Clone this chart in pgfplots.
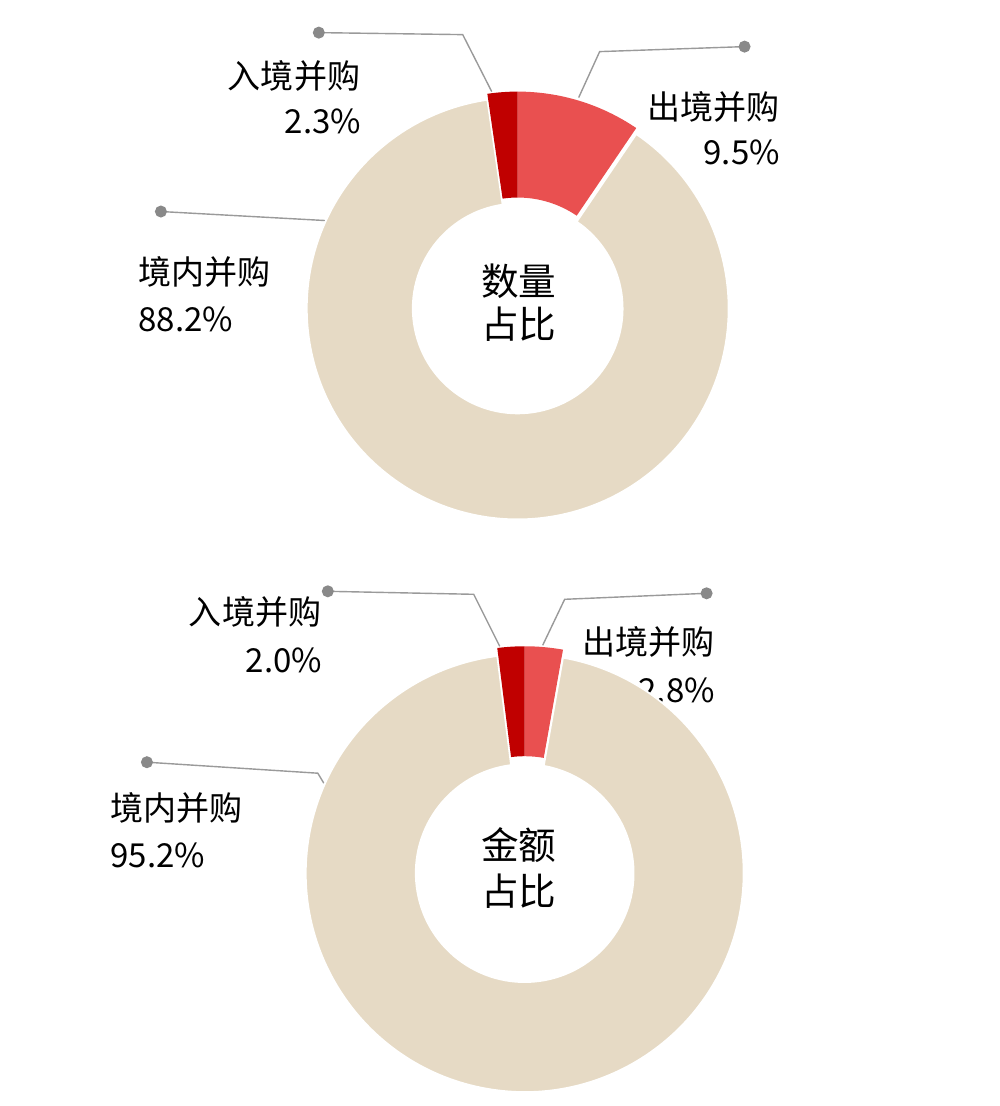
\documentclass[border=0pt]{standalone}
\usepackage{pgfplots}
\pgfplotsset{compat=1.18}
\usepackage{pgfplotstable}
\usepackage{fontspec}
\setmainfont{Noto Sans CJK SC}

\definecolor{inbound}{HTML}{C00000}
\definecolor{outbound}{HTML}{E95050}
\definecolor{domestic}{HTML}{E6DAC5}
\definecolor{leader}{HTML}{9A9A9A}
\definecolor{leaderdot}{HTML}{898989}

% shares in percent, clockwise from 12 o'clock
\pgfplotstableread{
part     count amount
outbound 9.5   2.8
domestic 88.2  95.2
inbound  2.3   2.0
}\shares

\newcommand\getshare[3]{\pgfplotstablegetelem{#1}{#2}\of\shares\let#3\pgfplotsretval}

% one ring slice, in pixel units (y down)
% #1 cx, #2 cy, #3 outer r, #4 inner r, #5 start angle, #6 end angle, #7 lift, #8 style
\newcommand\slice[8]{%
  \pgfmathsetmacro\xa{#1+#3*cos(#5)}%
  \pgfmathsetmacro\ya{#2-#7-#3*sin(#5)}%
  \pgfmathsetmacro\xb{#1+#4*cos(#6)}%
  \pgfmathsetmacro\yb{#2-#7-#4*sin(#6)}%
  \pgfmathsetmacro\ro{#3*0.01}%
  \pgfmathsetmacro\ri{#4*0.01}%
  \edef\temp{\noexpand\path[#8]
    (axis cs:\xa,\ya) arc[start angle=#5, end angle=#6, radius=\ro cm]
    -- (axis cs:\xb,\yb) arc[start angle=#6, end angle=#5, radius=\ri cm] -- cycle;}%
  \temp}

\newcommand\lbl{\fontsize{9.4pt}{11pt}\selectfont}
\newcommand\ctr{\fontsize{10.7pt}{12pt}\selectfont}

\begin{document}
\begin{tikzpicture}
\useasboundingbox (0,0) rectangle (10cm,11.06cm);

% angles, clockwise from 90 degrees
\getshare{0}{count}\cA \getshare{1}{count}\cB
\getshare{0}{amount}\mA \getshare{1}{amount}\mB
\pgfmathsetmacro\ca{90-3.6*\cA}
\pgfmathsetmacro\cb{\ca-3.6*\cB}
\pgfmathsetmacro\ma{90-3.6*\mA}
\pgfmathsetmacro\mb{\ma-3.6*\mB}

\begin{axis}[
  at={(0,0)}, anchor=south west,
  x=0.01cm, y=0.01cm,
  xmin=0, xmax=1000, ymin=0, ymax=1106,
  y dir=reverse,
  hide axis, clip=false,
  leaderline/.style={leader, line width=0.4pt, mark=*, mark indices={1},
    mark size=1.5pt, mark options={fill=leaderdot, draw=leaderdot}},
]
% ---- top: number of deals
\addplot[leaderline] coordinates {(319,32) (463,34) (492,91)};
\addplot[leaderline] coordinates {(745,46) (600,51) (579,97)};
\addplot[leaderline] coordinates {(161,211) (325,220)};

\node[anchor=east, inner sep=0, font=\lbl] at (axis cs:361,75) {入境并购};
\node[anchor=east, inner sep=0, font=\lbl] at (axis cs:362,121) {2.3\%};
\node[anchor=east, inner sep=0, font=\lbl] at (axis cs:781,106) {出境并购};
\node[anchor=east, inner sep=0, font=\lbl] at (axis cs:781,152) {9.5\%};
\node[anchor=west, inner sep=0, font=\lbl] at (axis cs:138,271) {境内并购};
\node[anchor=west, inner sep=0, font=\lbl] at (axis cs:138,319) {88.2\%};

\slice{518}{308}{211}{105}{90}{\ca}{6}{fill=outbound}
\slice{518}{308}{211}{105}{\ca}{\cb}{0}{fill=domestic, draw=white, line width=0.5pt}
\slice{518}{308}{211}{105}{\cb}{-270}{6}{fill=inbound}

\node[inner sep=0, font=\ctr] at (axis cs:519,281) {数量};
\node[inner sep=0, font=\ctr] at (axis cs:519,324) {占比};

% ---- bottom: deal value
\addplot[leaderline] coordinates {(328,591) (474,594) (500,646)};
\addplot[leaderline] coordinates {(707,593) (565,599) (543,645)};
\addplot[leaderline] coordinates {(147,762) (318,773) (324,783)};

\node[anchor=east, inner sep=0, font=\lbl] at (axis cs:322,612) {入境并购};
\node[anchor=east, inner sep=0, font=\lbl] at (axis cs:323,660) {2.0\%};
\node[anchor=east, inner sep=0, font=\lbl] at (axis cs:716,642) {出境并购};
\node[anchor=east, inner sep=0, font=\lbl] at (axis cs:716,690) {2.8\%};
\node[anchor=west, inner sep=0, font=\lbl] at (axis cs:110,808) {境内并购};
\node[anchor=west, inner sep=0, font=\lbl] at (axis cs:110,855) {95.2\%};

\slice{525}{873}{219}{109}{90}{\ma}{8}{fill=outbound}
\slice{525}{873}{219}{109}{\ma}{\mb}{0}{fill=domestic, draw=white, line width=0.5pt}
\slice{525}{873}{219}{109}{\mb}{-270}{8}{fill=inbound}

\node[inner sep=0, font=\ctr] at (axis cs:519,845) {金额};
\node[inner sep=0, font=\ctr] at (axis cs:519,891) {占比};
\end{axis}
\end{tikzpicture}
\end{document}
